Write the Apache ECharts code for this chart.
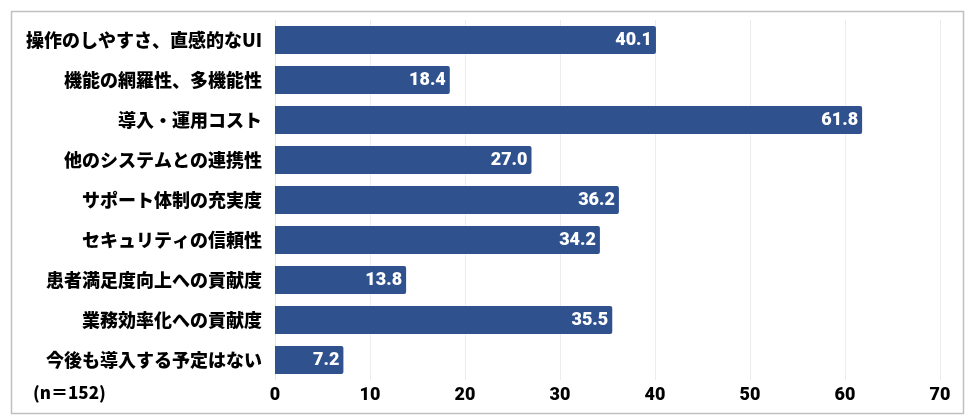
<!DOCTYPE html>
<html><head><meta charset="utf-8">
<script src="https://cdn.jsdelivr.net/npm/echarts@6/dist/echarts.min.js"></script>
<style>html,body{margin:0;padding:0;background:#fff}#c{width:979px;height:420px}</style>
</head><body><div id="c"></div>
<script>
const categories = ["操作のしやすさ、直感的なUI","機能の網羅性、多機能性","導入・運用コスト","他のシステムとの連携性","サポート体制の充実度","セキュリティの信頼性","患者満足度向上への貢献度","業務効率化への貢献度","今後も導入する予定はない"];
const values = [40.1,18.4,61.8,27.0,36.2,34.2,13.8,35.5,7.2];
const sampleNote = "(n＝152)";
const FONT = '"Noto Sans CJK JP","Noto Sans",sans-serif';
const NUMFONT = '"Roboto","Noto Sans",sans-serif';
const chart = echarts.init(document.getElementById('c'));
chart.setOption({
  animation:false,
  backgroundColor:'#fff',
  grid:{left:275,right:39,top:20,bottom:40},
  xAxis:{type:'value',min:0,max:70,interval:10,
    axisLine:{show:false},axisTick:{show:false},
    splitLine:{lineStyle:{color:'#ececec',width:1}},
    axisLabel:{color:'#000',fontWeight:900,fontSize:18,fontFamily:NUMFONT,margin:6}},
  yAxis:{type:'category',data:categories,inverse:true,
    axisLine:{show:true,lineStyle:{color:'#e6e6e6'}},axisTick:{show:false},
    axisLabel:{color:'#000',fontWeight:900,fontSize:18,fontFamily:FONT,margin:13}},
  series:[{type:'bar',data:values,barWidth:28,
    itemStyle:{color:'#2f528f',borderRadius:[0,2,2,0]},
    label:{show:true,position:'insideRight',distance:4,color:'#fff',fontWeight:900,fontSize:18,
      fontFamily:NUMFONT,
      formatter:p=>p.value.toFixed(1)}}],
  graphic:[
    {type:'rect',shape:{x:11.5,y:11.5,width:952,height:402},style:{fill:'none',stroke:'#c0c0c0',lineWidth:1.5},silent:true},
    {type:'text',left:33,top:384,style:{text:sampleNote,font:'900 17px '+FONT,fill:'#000'}}
  ]
});
</script></body></html>
